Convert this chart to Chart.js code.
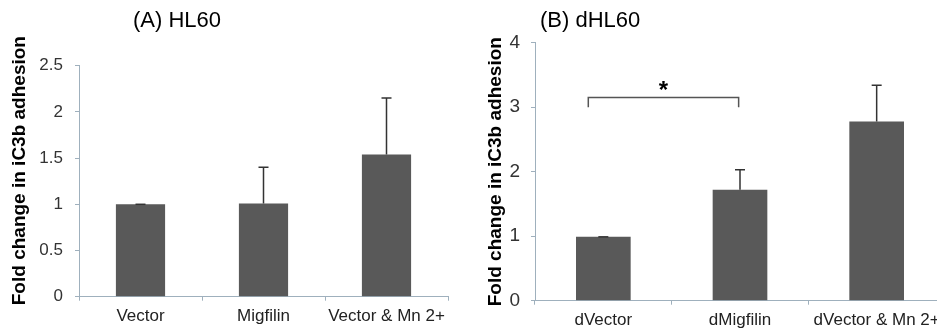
<!DOCTYPE html>
<html>
<head>
<meta charset="utf-8">
<script src="https://cdn.jsdelivr.net/npm/chart.js@4.4.1/dist/chart.umd.min.js"></script>
<style>
  body { margin: 0; background: #fff; overflow: hidden; width: 937px; height: 331px; position: relative; font-family: "Liberation Sans", Arial, sans-serif; }
  .panel { position: absolute; top: 0; height: 331px; }
  .ttl { position: absolute; top: 7px; font-size: 22px; color: #000; white-space: nowrap; }
</style>
</head>
<body>
<div class="panel" style="left:0;width:470px"><canvas id="chartA"></canvas></div>
<div class="panel" style="left:470px;width:475px"><canvas id="chartB"></canvas></div>
<div class="ttl" style="left:133px">(A) HL60</div>
<div class="ttl" style="left:540px">(B) dHL60</div>
<script>
// panel A - HL60
const labelsA = ["Vector", "Migfilin", "Vector & Mn 2+"];
const valuesA = [1.0, 1.01, 1.54];
const errorsA = [0, 0.39, 0.61];

// panel B - dHL60
const labelsB = ["dVector", "dMigfilin", "dVector & Mn 2+"];
const valuesB = [0.99, 1.72, 2.78];
const errorsB = [0, 0.31, 0.56];

// significance bracket between dVector and dMigfilin
const bracketFrom = -0.11;
const bracketTo = 0.99;
const bracketTop = 3.15;
const bracketFoot = 3.0;

const yTitle = "Fold change in iC3b adhesion";
const axisColor = "#9fb0bd";
const barColor = "#595959";

// upper error bars, drawn through the chart scales
const errorBars = {
  id: "errorBars",
  afterDatasetsDraw(chart, args, opts) {
    const { ctx, scales: { x, y } } = chart;
    const vals = chart.data.datasets[0].data;
    ctx.save();
    ctx.strokeStyle = "#333";
    ctx.lineWidth = 1.5;
    vals.forEach((v, i) => {
      const px = x.getPixelForValue(i);
      const y0 = y.getPixelForValue(v);
      const y1 = y.getPixelForValue(v + opts.errors[i]);
      ctx.beginPath();
      ctx.moveTo(px, y0);
      ctx.lineTo(px, y1);
      ctx.moveTo(px - 5, y1);
      ctx.lineTo(px + 5, y1);
      ctx.stroke();
    });
    ctx.restore();
  },
};

const bracket = {
  id: "bracket",
  afterDatasetsDraw(chart, args, opts) {
    if (!opts.show) return;
    const { ctx, scales: { x, y } } = chart;
    const step = x.getPixelForValue(1) - x.getPixelForValue(0);
    const x0 = x.getPixelForValue(0) + bracketFrom * step;
    const x1 = x.getPixelForValue(0) + bracketTo * step;
    const yt = y.getPixelForValue(bracketTop);
    const yf = y.getPixelForValue(bracketFoot);
    ctx.save();
    ctx.strokeStyle = "#555";
    ctx.lineWidth = 1.5;
    ctx.beginPath();
    ctx.moveTo(x0, yf);
    ctx.lineTo(x0, yt);
    ctx.lineTo(x1, yt);
    ctx.lineTo(x1, yf);
    ctx.stroke();
    ctx.fillStyle = "#000";
    ctx.font = "bold 24px 'Liberation Sans', Arial";
    ctx.textAlign = "center";
    ctx.textBaseline = "middle";
    ctx.fillText("*", (x0 + x1) / 2, yt - 6);
    ctx.restore();
  },
};

function makeChart(id, labels, values, errors, opt) {
  return new Chart(document.getElementById(id), {
    type: "bar",
    data: {
      labels: labels,
      datasets: [{
        data: values,
        backgroundColor: barColor,
        borderWidth: 0,
        barPercentage: 0.4,
        categoryPercentage: 1,
      }],
    },
    plugins: [errorBars, bracket],
    options: {
      responsive: true,
      maintainAspectRatio: false,
      animation: false,
      layout: { padding: { left: 0, right: opt.padRight, top: opt.padTop, bottom: 0 } },
      plugins: {
        legend: { display: false },
        tooltip: { enabled: false },
        errorBars: { errors: errors },
        bracket: { show: opt.bracket },
      },
      scales: {
        x: {
          grid: { drawOnChartArea: false, color: axisColor, tickLength: 4, offset: true },
          border: { color: axisColor, width: 1 },
          ticks: { color: "#222", font: { family: "'Liberation Sans', Arial", size: 17 }, padding: 5, maxRotation: 0 },
          afterFit: (s) => { s.height = opt.xHeight; },
        },
        y: {
          min: 0,
          max: opt.max,
          ticks: {
            stepSize: opt.step,
            color: "#333",
            font: { family: "'Liberation Sans', Arial", size: opt.tickSize },
            padding: opt.tickPad,
            callback: (v) => String(v),
          },
          grid: { drawOnChartArea: false, color: axisColor, tickLength: 4 },
          border: { color: axisColor, width: 1 },
          title: {
            display: true,
            // leading spaces nudge the rotated title up a little, as in the original
            text: opt.titleLead + yTitle,
            color: "#000",
            font: { family: "'Liberation Sans', Arial", size: 19, weight: "bold" },
            padding: { top: opt.titlePad, bottom: 0 },
          },
          afterFit: (s) => { s.width = opt.yWidth; },
        },
      },
    },
  });
}

makeChart("chartA", labelsA, valuesA, errorsA, {
  max: 2.5, step: 0.5, tickSize: 17, tickPad: 12, titleLead: "\u00a0\u00a0\u00a0\u00a0",
  yWidth: 79, xHeight: 34.3, padTop: 65.7, padRight: 22, titlePad: 8, bracket: false,
});

makeChart("chartB", labelsB, valuesB, errorsB, {
  max: 4, step: 1, tickSize: 19, tickPad: 11, titleLead: "",
  yWidth: 65, xHeight: 30.3, padTop: 42.7, padRight: 0, titlePad: 14, bracket: true,
});
</script>
</body>
</html>
